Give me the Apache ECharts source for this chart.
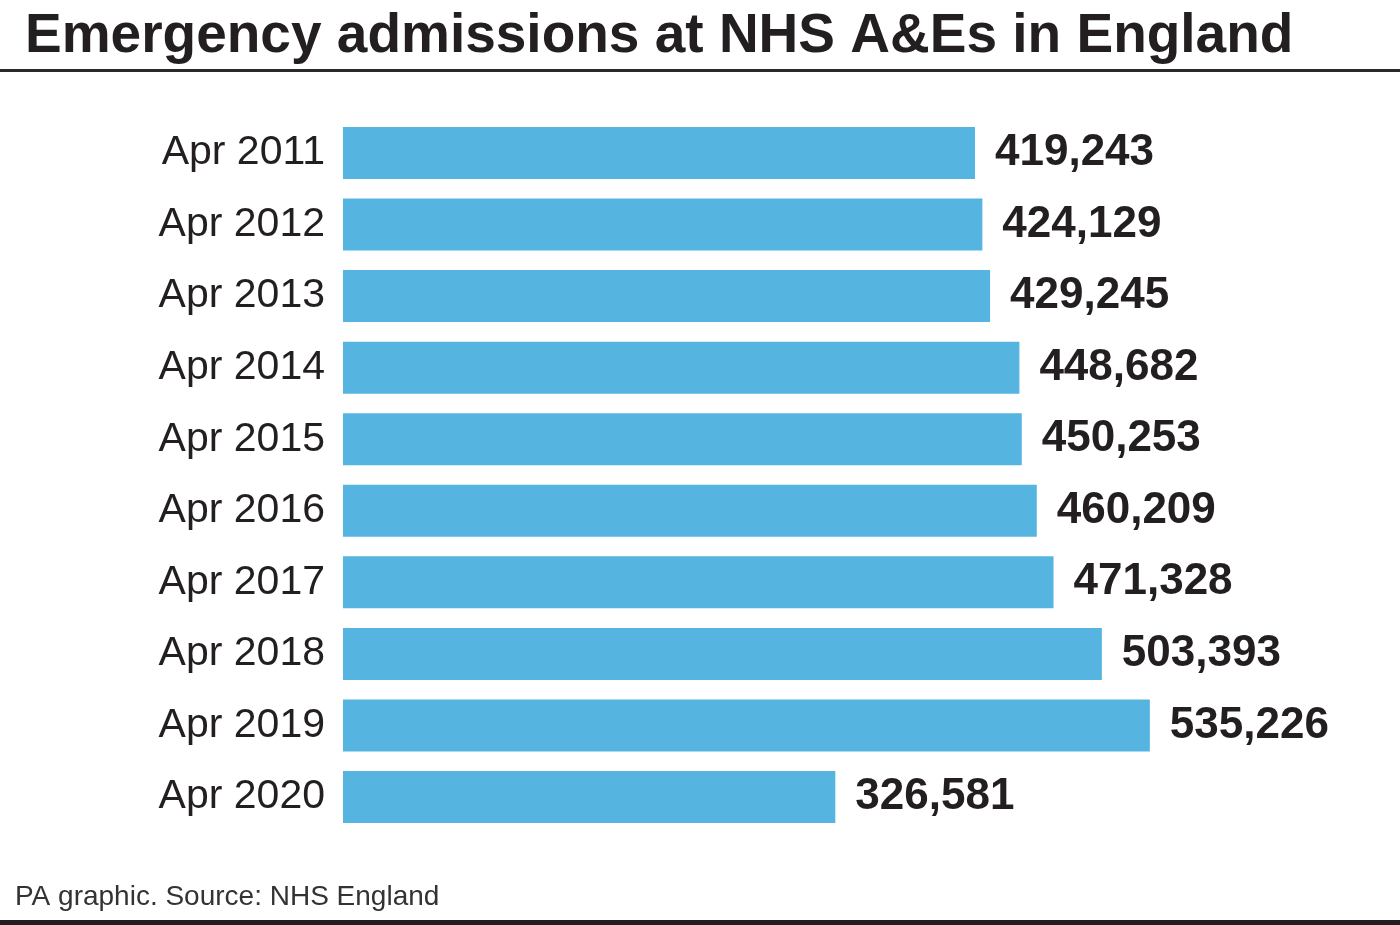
<!DOCTYPE html>
<html>
<head>
<meta charset="utf-8">
<script src="https://cdn.jsdelivr.net/npm/echarts@6/dist/echarts.min.js"></script>
<style>
html,body{margin:0;padding:0;background:#fff;}
#chart{width:1400px;height:925px;}
</style>
</head>
<body>
<div id="chart"></div>
<script>
const categories = ['Apr 2011','Apr 2012','Apr 2013','Apr 2014','Apr 2015','Apr 2016','Apr 2017','Apr 2018','Apr 2019','Apr 2020'];
const admissions = [419243,424129,429245,448682,450253,460209,471328,503393,535226,326581];
const titleText = 'Emergency admissions at NHS A&Es in England';
const sourceText = 'PA graphic. Source: NHS England';

const chart = echarts.init(document.getElementById('chart'), null, {renderer:'canvas'});
const ink = '#231f20';
chart.setOption({
  backgroundColor:'#ffffff',
  animation:false,
  title:{
    text:titleText, left:20, top:4,
    textStyle:{fontFamily:'Liberation Sans', fontWeight:'bold', fontSize:55, color:ink}
  },
  graphic:[
    {type:'rect', shape:{x:0,y:69,width:1400,height:3}, style:{fill:'#2a2a2a'}},
    {type:'rect', shape:{x:0,y:920,width:1400,height:5}, style:{fill:'#231f20'}},
    {type:'text', left:15, top:883, style:{text:sourceText, font:'28px "Liberation Sans"', fill:'#333333'}}
  ],
  grid:{left:343, top:117.2, width:1000, height:715.6, containLabel:false},
  xAxis:{type:'value', min:0, max:663350, show:false},
  yAxis:{
    type:'category', data:categories, inverse:true,
    axisLine:{show:false}, axisTick:{show:false}, splitLine:{show:false},
    axisLabel:{margin:18, fontFamily:'Liberation Sans', fontSize:41, color:ink}
  },
  series:[{
    type:'bar', data:admissions, barWidth:52,
    itemStyle:{color:'#56b5e0'},
    label:{show:true, position:'right', distance:20,
      formatter:p=>p.value.toLocaleString('en-GB'),
      fontFamily:'Liberation Sans', fontWeight:'bold', fontSize:44, color:ink}
  }]
});
</script>
</body>
</html>
